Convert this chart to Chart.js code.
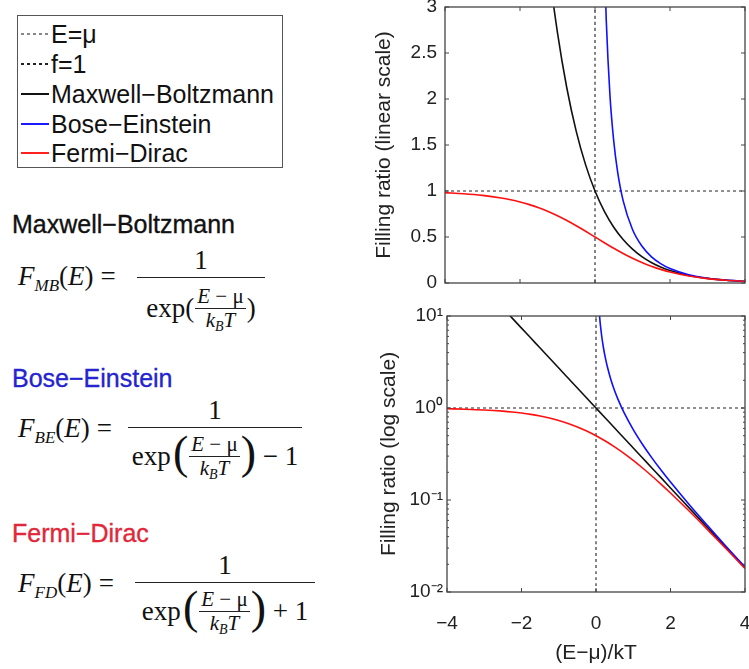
<!DOCTYPE html>
<html>
<head>
<meta charset="utf-8">
<script src="https://cdn.jsdelivr.net/npm/chart.js@4/dist/chart.umd.min.js"></script>
<style>
  body { margin: 0; width: 749px; height: 669px; overflow: hidden; background: #fff; position: relative; font-family: 'Liberation Sans', Arial, sans-serif; }
  canvas { position: absolute; }
  #legend { position: absolute; left: 17px; top: 15px; width: 264px; height: 151px; border: 1.5px solid #555; }
  .row { position: absolute; left: 0; height: 30px; display: flex; align-items: center; font-size: 25px; color: #111; white-space: nowrap; }
  .swatch { display: inline-block; width: 28px; height: 2px; margin-left: 3px; margin-right: 2px; }
  .head { position: absolute; left: 12px; height: 30px; line-height: 30px; font-size: 25px; white-space: nowrap; -webkit-text-stroke: 0.35px currentColor; }
  .eq { position: absolute; font-family: 'Liberation Serif', 'DejaVu Serif', serif; font-size: 27px; color: #111; line-height: 1; white-space: nowrap; }
  .lhs { transform: translateY(-50%); }
  .eqs { margin-left: 7px; }
  .sub { font-size: 17px; position: relative; top: 6px; font-style: italic; }
  .bar { position: absolute; height: 0; border-top: 1.5px solid #222; }
  .num { position: absolute; left: 0; width: 100%; bottom: 4px; text-align: center; }
  .den { position: absolute; left: 0; width: 100%; display: flex; justify-content: center; align-items: center; }
  .ifrac { display: inline-flex; flex-direction: column; align-items: center; font-size: 21px; margin: 0 1px; }
  .ifrac .n { border-bottom: 1.3px solid #222; padding: 0 2px 1px; }
  .ifrac .d { padding-top: 1px; }
  .ifrac .sub { font-size: 14px; top: 4px; }
  .bp { font-size: 46px; line-height: 1; position: relative; top: -3px; }
</style>
</head>
<body>

<div id="legend">
  <div class="row" style="top:3px"><span class="swatch" style="background:repeating-linear-gradient(to right,#888 0 3px,transparent 3px 6px);height:1.5px"></span>E=μ</div>
  <div class="row" style="top:33px"><span class="swatch" style="background:repeating-linear-gradient(to right,#222 0 3px,transparent 3px 6px);height:1.5px"></span>f=1</div>
  <div class="row" style="top:63px"><span class="swatch" style="background:#111"></span>Maxwell−Boltzmann</div>
  <div class="row" style="top:93px"><span class="swatch" style="background:#1a1aff"></span>Bose−Einstein</div>
  <div class="row" style="top:122px"><span class="swatch" style="background:#ff2020"></span>Fermi−Dirac</div>
</div>

<div class="head" style="top:209px;color:#111">Maxwell−Boltzmann</div>
<div class="eq lhs" style="left:18px;top:276px"><i>F</i><span class="sub">MB</span>(<i>E</i>)<span class="eqs">=</span></div>
<div class="eq bar" style="left:137px;top:277px;width:128px">
  <div class="num">1</div>
  <div class="den" style="top:8px">exp(<span class="ifrac"><span class="n"><i>E</i> − μ</span><span class="d"><i>k</i><span class="sub">B</span><i>T</i></span></span>)</div>
</div>

<div class="head" style="top:363px;color:#2424d0">Bose−Einstein</div>
<div class="eq lhs" style="left:18px;top:428px"><i>F</i><span class="sub">BE</span>(<i>E</i>)<span class="eqs">=</span></div>
<div class="eq bar" style="left:128px;top:427px;width:174px">
  <div class="num">1</div>
  <div class="den" style="top:5px">exp&#8202;<span class="bp">(</span><span class="ifrac"><span class="n"><i>E</i> − μ</span><span class="d"><i>k</i><span class="sub">B</span><i>T</i></span></span><span class="bp">)</span>&nbsp;− 1</div>
</div>

<div class="head" style="top:518px;color:#e0283a">Fermi−Dirac</div>
<div class="eq lhs" style="left:18px;top:583px"><i>F</i><span class="sub">FD</span>(<i>E</i>)<span class="eqs">=</span></div>
<div class="eq bar" style="left:135px;top:582px;width:180px">
  <div class="num">1</div>
  <div class="den" style="top:5px">exp&#8202;<span class="bp">(</span><span class="ifrac"><span class="n"><i>E</i> − μ</span><span class="d"><i>k</i><span class="sub">B</span><i>T</i></span></span><span class="bp">)</span>&nbsp;+ 1</div>
</div>

<canvas id="linChart" width="389" height="300" style="left:360px;top:0"></canvas>
<canvas id="logChart" width="389" height="369" style="left:360px;top:300px"></canvas>

<script>
// reduced energy (E-mu)/kT sample points
const xGrid = [-4, -3.5, -3, -2.5, -2.25, -2, -1.75, -1.5, -1.25, -1, -0.75, -0.5, -0.25, 0,
               0.25, 0.5, 0.75, 1, 1.25, 1.5, 1.75, 2, 2.5, 3, 3.5, 4];
const maxwellBoltzmann = [54.598, 33.115, 20.086, 12.182, 9.4877, 7.3891, 5.7546, 4.4817, 3.4903, 2.7183, 2.117, 1.6487, 1.284, 1,
                          0.7788, 0.6065, 0.4724, 0.3679, 0.2865, 0.2231, 0.1738, 0.1353, 0.0821, 0.0498, 0.0302, 0.0183];
const fermiDirac = [0.982, 0.9707, 0.9526, 0.9241, 0.9047, 0.8808, 0.852, 0.8176, 0.7773, 0.7311, 0.6792, 0.6225, 0.5622, 0.5,
                    0.4378, 0.3775, 0.3208, 0.2689, 0.2227, 0.1824, 0.148, 0.1192, 0.0759, 0.0474, 0.0293, 0.018];
// Bose-Einstein only exists above mu
const beX = [0.05, 0.1, 0.15, 0.2, 0.25, 0.3, 0.4, 0.5, 0.6, 0.75, 1, 1.25, 1.5, 1.75, 2, 2.5, 3, 3.5, 4];
const boseEinstein = [19.504, 9.508, 6.179, 4.517, 3.521, 2.858, 2.033, 1.5415, 1.2164, 0.8953, 0.582, 0.4016, 0.2872, 0.2103, 0.1565, 0.0894, 0.0524, 0.0311, 0.0187];

const xTicks = [-4, -2, 0, 2, 4];
const linTicks = [0, 0.5, 1, 1.5, 2, 2.5, 3];
const logTicks = [0.01, 0.1, 1, 10];
const logTickLabels = ['10⁻²', '10⁻¹', '10⁰', '10¹'];
const muX = 0;      // E = mu
const fillOne = 1;  // f = 1

Chart.defaults.font.family = "'Liberation Sans', Arial, sans-serif";
Chart.defaults.color = '#222';

const pts = (xs, ys) => xs.map((x, i) => ({x: x, y: ys[i]}));

function buildDatasets(yMin, yMax) {
    return [
        {label: 'Fermi-Dirac', data: pts(xGrid, fermiDirac), borderColor: '#ff1010', borderWidth: 1.6},
        {label: 'Bose-Einstein', data: pts(beX, boseEinstein), borderColor: '#1010ff', borderWidth: 1.6},
        {label: 'Maxwell-Boltzmann', data: pts(xGrid, maxwellBoltzmann), borderColor: '#111', borderWidth: 1.6},
        {label: 'f=1', data: [{x: -4, y: fillOne}, {x: 4, y: fillOne}], borderColor: '#222', borderWidth: 1.2, borderDash: [3, 3]},
        {label: 'E=mu', data: [{x: muX, y: yMin}, {x: muX, y: yMax}], borderColor: '#333', borderWidth: 1.2, borderDash: [3, 3]}
    ].map(d => Object.assign(d, {pointRadius: 0, fill: false, cubicInterpolationMode: 'monotone'}));
}

// fixed axis sizes so both plots line up like the original figure
function fixSize(size) {
    return scale => {
        if (scale.isHorizontal()) scale.height = size; else scale.width = size;
        scale.paddingTop = 0; scale.paddingBottom = 0;
        scale.paddingLeft = 0; scale.paddingRight = 0;
    };
}

// box around the plot with inward ticks
const frame = {
    id: 'frame',
    afterDatasetsDraw(chart) {
        const {ctx, chartArea: a, scales} = chart;
        ctx.save();
        ctx.strokeStyle = '#444';
        ctx.lineWidth = 1.3;
        ctx.strokeRect(a.left, a.top, a.right - a.left, a.bottom - a.top);
        ctx.lineWidth = 1;
        ctx.beginPath();
        scales.x.ticks.forEach(t => {
            const px = scales.x.getPixelForValue(t.value);
            ctx.moveTo(px, a.bottom); ctx.lineTo(px, a.bottom - 4);
            ctx.moveTo(px, a.top); ctx.lineTo(px, a.top + 4);
        });
        scales.y.ticks.forEach(t => {
            const py = scales.y.getPixelForValue(t.value);
            ctx.moveTo(a.left, py); ctx.lineTo(a.left + 4, py);
            ctx.moveTo(a.right, py); ctx.lineTo(a.right - 4, py);
        });
        if (scales.y.type === 'logarithmic') {
            logTicks.slice(0, -1).forEach(d => {
                for (let m = 2; m < 10; m++) {
                    const py = scales.y.getPixelForValue(d * m);
                    ctx.moveTo(a.left, py); ctx.lineTo(a.left + 2, py);
                    ctx.moveTo(a.right, py); ctx.lineTo(a.right - 2, py);
                }
            });
        }
        ctx.stroke();
        ctx.restore();
    }
};

const minusFmt = v => v < 0 ? '−' + Math.abs(v) : String(v);
const noGrid = {display: false, drawTicks: false};

new Chart(document.getElementById('linChart'), {
    type: 'line',
    data: {datasets: buildDatasets(0, 3)},
    options: {
        responsive: false,
        animation: false,
        layout: {autoPadding: false, padding: {left: 0, right: 4, top: 7, bottom: 0}},
        plugins: {legend: {display: false}, tooltip: {enabled: false}},
        scales: {
            x: {
                type: 'linear', min: -4, max: 4,
                afterBuildTicks: s => { s.ticks = xTicks.map(v => ({value: v})); },
                afterFit: fixSize(17),
                grid: noGrid, border: {display: false},
                ticks: {display: false}
            },
            y: {
                type: 'linear', min: 0, max: 3,
                afterBuildTicks: s => { s.ticks = linTicks.map(v => ({value: v})); },
                afterFit: fixSize(85),
                grid: noGrid, border: {display: false},
                ticks: {font: {size: 19}, padding: 8, callback: v => String(v)},
                title: {display: true, text: 'Filling ratio (linear scale)', font: {size: 21}, padding: {top: 12, bottom: 0}}
            }
        }
    },
    plugins: [frame]
});

new Chart(document.getElementById('logChart'), {
    type: 'line',
    data: {datasets: buildDatasets(0.01, 10)},
    options: {
        responsive: false,
        animation: false,
        layout: {autoPadding: false, padding: {left: 0, right: 4, top: 16, bottom: 0}},
        plugins: {legend: {display: false}, tooltip: {enabled: false}},
        scales: {
            x: {
                type: 'linear', min: -4, max: 4,
                afterBuildTicks: s => { s.ticks = xTicks.map(v => ({value: v})); },
                afterFit: fixSize(77),
                grid: noGrid, border: {display: false},
                ticks: {font: {size: 19}, padding: 20, callback: minusFmt},
                title: {display: true, text: '(E−μ)/kT', font: {size: 21}, padding: {top: 0, bottom: 3}}
            },
            y: {
                type: 'logarithmic', min: 0.01, max: 10,
                afterBuildTicks: s => { s.ticks = logTicks.map(v => ({value: v})); },
                afterFit: fixSize(87),
                grid: noGrid, border: {display: false},
                ticks: {font: {size: 19}, padding: 4, callback: (v, i) => logTickLabels[i]},
                title: {display: true, text: 'Filling ratio (log scale)', font: {size: 21}, padding: {top: 17, bottom: 0}}
            }
        }
    },
    plugins: [frame]
});
</script>
</body>
</html>
